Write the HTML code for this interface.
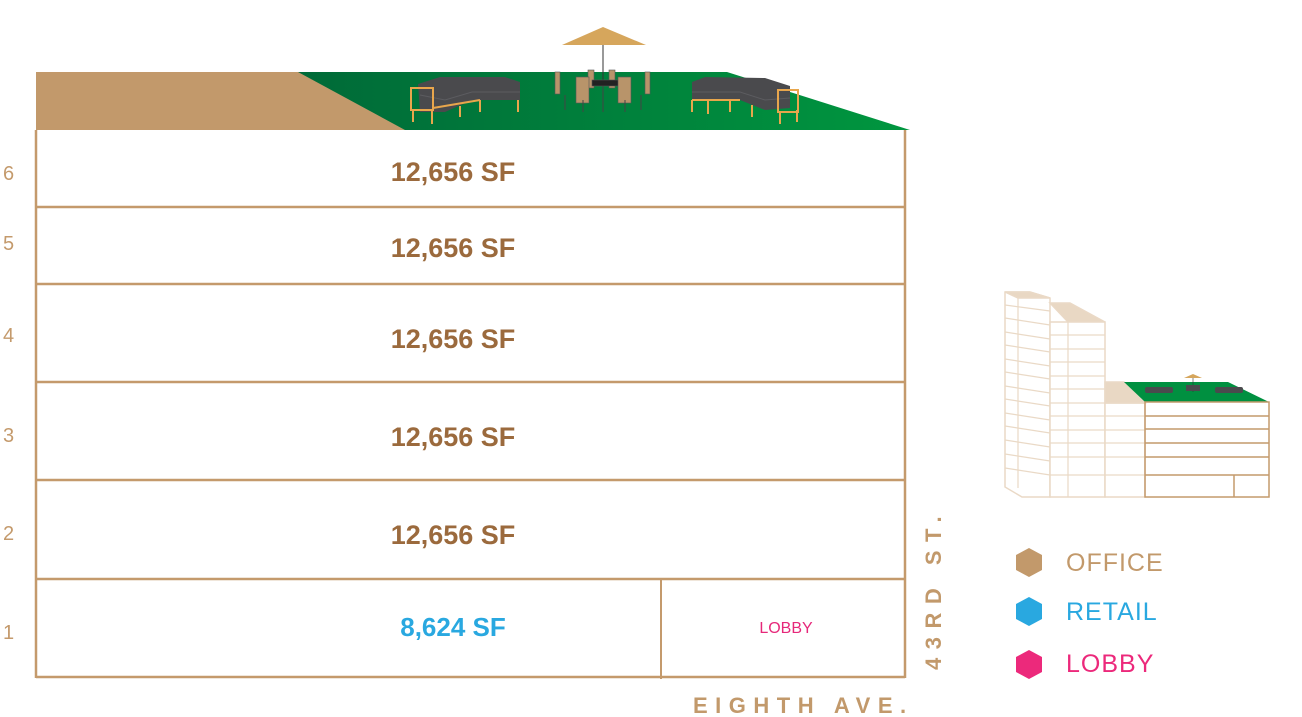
<!DOCTYPE html>
<html><head><meta charset="utf-8"><style>
html,body{margin:0;padding:0;background:#fff;}
svg{display:block;}
text{font-family:"Liberation Sans",sans-serif;}
</style></head><body>
<svg width="1302" height="717" viewBox="0 0 1302 717" xmlns="http://www.w3.org/2000/svg">
<defs>
<linearGradient id="g" x1="0" y1="0" x2="1" y2="0">
<stop offset="0" stop-color="#006a38"/><stop offset="1" stop-color="#00963f"/>
</linearGradient>
</defs>
<polygon points="36,72 300,72 406,130 36,130" fill="#c2996b"/>
<polygon points="298,72 727,72 910,130 405,130" fill="url(#g)"/>
<line x1="603" y1="30" x2="603" y2="100" stroke="#333" stroke-width="1"/>
<polygon points="603,27 562,45 646,45" fill="#d6a65c"/>
<g fill="#b8946a" stroke="#555" stroke-width="0.6">
<rect x="588" y="70" width="6" height="18"/><rect x="609" y="70" width="6" height="18"/>
<rect x="592" y="80" width="30" height="6" fill="#222"/>
<rect x="555" y="72" width="5" height="22"/><rect x="645" y="72" width="5" height="22"/>
<rect x="576" y="77" width="13" height="26"/><rect x="618" y="77" width="13" height="26"/>
</g>
<g stroke="#444" stroke-width="1"><line x1="565" y1="95" x2="565" y2="110"/><line x1="583" y1="100" x2="583" y2="112"/><line x1="625" y1="100" x2="625" y2="112"/><line x1="641" y1="95" x2="641" y2="110"/><line x1="603" y1="86" x2="603" y2="112"/></g>
<g>
<path d="M418,84 L440,77 L505,77 L520,82 L520,100 L472,100 L445,112 L420,112 Z" fill="#4a4a4d"/>
<path d="M420,95 L445,100 L472,92 L520,92" stroke="#5c5c60" stroke-width="1" fill="none"/>
<rect x="411" y="88" width="22" height="22" fill="none" stroke="#e8a64c" stroke-width="2"/>
<g stroke="#e8a64c" stroke-width="2"><line x1="413" y1="110" x2="413" y2="122"/><line x1="432" y1="110" x2="432" y2="124"/><line x1="460" y1="106" x2="460" y2="117"/><line x1="480" y1="100" x2="480" y2="112"/><line x1="518" y1="100" x2="518" y2="112"/><line x1="433" y1="108" x2="480" y2="100"/></g>
</g>
<g>
<path d="M692,82 L705,77 L765,78 L790,86 L790,108 L765,110 L740,100 L692,100 Z" fill="#4a4a4d"/>
<path d="M692,92 L740,92 L765,100 L790,98" stroke="#5c5c60" stroke-width="1" fill="none"/>
<rect x="778" y="90" width="20" height="22" fill="none" stroke="#e8a64c" stroke-width="2"/>
<g stroke="#e8a64c" stroke-width="2"><line x1="692" y1="100" x2="692" y2="112"/><line x1="708" y1="100" x2="708" y2="114"/><line x1="730" y1="100" x2="730" y2="112"/><line x1="752" y1="105" x2="752" y2="117"/><line x1="780" y1="112" x2="780" y2="124"/><line x1="797" y1="110" x2="797" y2="122"/><line x1="692" y1="100" x2="740" y2="100"/></g>
</g>
<g stroke="#c49a6c" stroke-width="2.5" fill="none">
<line x1="36" y1="130" x2="36" y2="678"/>
<line x1="905" y1="130" x2="905" y2="678"/>
<line x1="36" y1="207" x2="905" y2="207"/>
<line x1="36" y1="284" x2="905" y2="284"/>
<line x1="36" y1="382" x2="905" y2="382"/>
<line x1="36" y1="480" x2="905" y2="480"/>
<line x1="36" y1="579" x2="905" y2="579"/>
<line x1="36" y1="677" x2="905" y2="677"/>
<line x1="661" y1="579" x2="661" y2="679" stroke-width="2"/>
</g>
<g fill="#c49a6c" font-size="20">
<text x="3" y="180">6</text><text x="3" y="250">5</text><text x="3" y="342">4</text>
<text x="3" y="442">3</text><text x="3" y="540">2</text><text x="3" y="639">1</text>
</g>
<g fill="#9b6a3d" font-size="27" font-weight="bold" text-anchor="middle">
<text x="453" y="181">12,656 SF</text><text x="453" y="257">12,656 SF</text>
<text x="453" y="348">12,656 SF</text><text x="453" y="446">12,656 SF</text>
<text x="453" y="544">12,656 SF</text>
</g>
<text x="453" y="636" fill="#29a8e0" font-size="26" font-weight="bold" text-anchor="middle">8,624 SF</text>
<text x="786" y="633" fill="#e6287a" font-size="16" text-anchor="middle">LOBBY</text>
<text transform="translate(941,670) rotate(-90)" fill="#c2996b" font-size="22" font-weight="bold" letter-spacing="8.5">43RD ST.</text>
<text x="693" y="713" fill="#c2996b" font-size="22" font-weight="bold" letter-spacing="7.5">EIGHTH AVE.</text>
<polygon points="1029,548 1042,555 1042,570 1029,577 1016,570 1016,555" fill="#c2996b"/>
<polygon points="1029,597 1042,604 1042,619 1029,626 1016,619 1016,604" fill="#29a8e0"/>
<polygon points="1029,650 1042,657 1042,672 1029,679 1016,672 1016,657" fill="#ec297b"/>
<g font-size="25" letter-spacing="1"><text x="1066" y="571" fill="#c2996b">OFFICE</text><text x="1066" y="620" fill="#29a8e0">RETAIL</text><text x="1066" y="672" fill="#ec297b">LOBBY</text></g>
<g stroke="#ead9c6" stroke-width="1.5" fill="#fff">
<polygon points="1005,292 1030,292 1050,298 1050,497 1022,497 1005,487" fill="#fff"/>
<polygon points="1005,292 1030,292 1050,298 1018,298" fill="#e9d8c4"/>
<polygon points="1050,303 1070,303 1105,322 1068,322" fill="#e9d8c4"/>
<rect x="1050" y="322" width="55" height="175"/>
<rect x="1105" y="403" width="40" height="94"/>
<polygon points="1105,382 1124,382 1145,403 1105,403" fill="#e9d8c4"/>
</g>
<g stroke="#ead9c6" stroke-width="1.2">
<line x1="1018" y1="298" x2="1018" y2="488"/><line x1="1068" y1="322" x2="1068" y2="497"/>
<line x1="1005" y1="305" x2="1050" y2="311"/><line x1="1005" y1="318" x2="1050" y2="325"/>
<line x1="1005" y1="332" x2="1050" y2="339"/><line x1="1005" y1="345" x2="1050" y2="352"/>
<line x1="1005" y1="359" x2="1050" y2="366"/><line x1="1005" y1="372" x2="1050" y2="379"/>
<line x1="1005" y1="386" x2="1050" y2="393"/><line x1="1005" y1="399" x2="1050" y2="406"/>
<line x1="1005" y1="413" x2="1050" y2="420"/><line x1="1005" y1="426" x2="1050" y2="433"/>
<line x1="1005" y1="440" x2="1050" y2="447"/><line x1="1005" y1="454" x2="1050" y2="461"/>
<line x1="1005" y1="468" x2="1050" y2="475"/>
<line x1="1050" y1="335" x2="1105" y2="335"/><line x1="1050" y1="349" x2="1105" y2="349"/>
<line x1="1050" y1="362" x2="1105" y2="362"/><line x1="1050" y1="376" x2="1105" y2="376"/>
<line x1="1050" y1="389" x2="1105" y2="389"/><line x1="1050" y1="403" x2="1105" y2="403"/>
<line x1="1050" y1="416" x2="1145" y2="416"/><line x1="1050" y1="430" x2="1145" y2="430"/>
<line x1="1050" y1="443" x2="1145" y2="443"/><line x1="1050" y1="457" x2="1145" y2="457"/>
<line x1="1050" y1="475" x2="1145" y2="475"/>
</g>
<polygon points="1124,382 1228,382 1269,402 1145,402" fill="#009040"/>
<line x1="1193" y1="376" x2="1193" y2="392" stroke="#333" stroke-width="0.6"/>
<polygon points="1193,374 1184,378 1202,378" fill="#d6a65c"/>
<g fill="#4a4a4d"><rect x="1145" y="387" width="28" height="6" rx="2"/><rect x="1215" y="387" width="28" height="6" rx="2"/><rect x="1186" y="385" width="14" height="6"/></g>
<g stroke="#c49a6c" stroke-width="1.5" fill="none">
<rect x="1145" y="402" width="124" height="95"/>
<line x1="1145" y1="416" x2="1269" y2="416"/><line x1="1145" y1="429" x2="1269" y2="429"/>
<line x1="1145" y1="443" x2="1269" y2="443"/><line x1="1145" y1="457" x2="1269" y2="457"/>
<line x1="1145" y1="475" x2="1269" y2="475"/><line x1="1234" y1="475" x2="1234" y2="497"/>
</g>
</svg>
</body></html>
